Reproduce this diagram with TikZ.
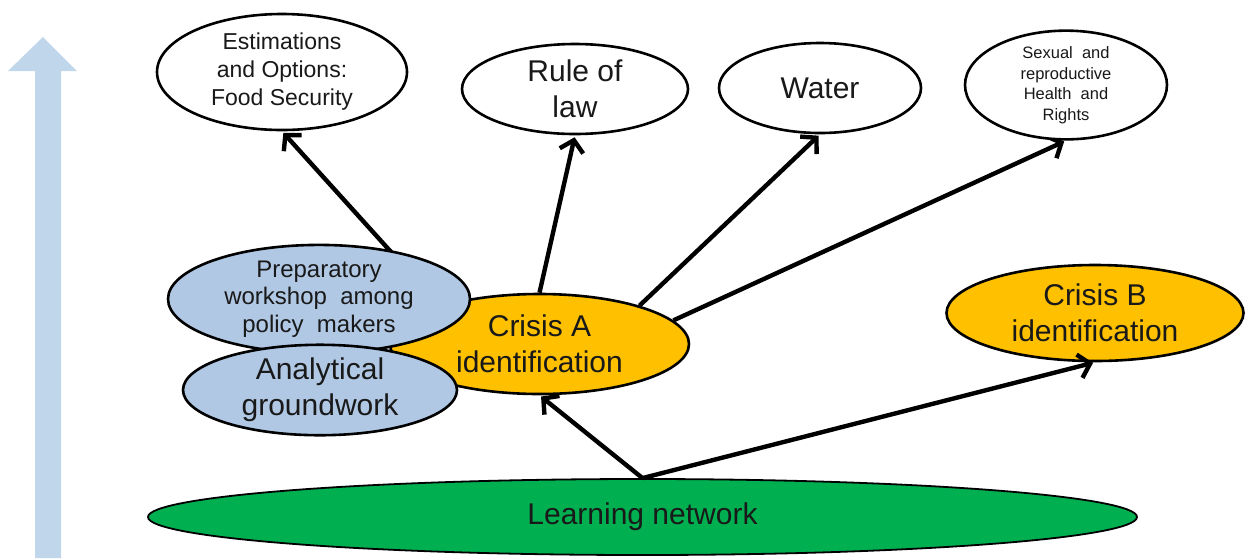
\documentclass[tikz,border=0pt]{standalone}
\usepackage{fontspec}
\setmainfont{Liberation Sans}
\usetikzlibrary{shapes.geometric,arrows.meta,backgrounds}
\definecolor{critorange}{RGB}{255,192,0}
\definecolor{netgreen}{RGB}{0,176,80}
\definecolor{prepblue}{RGB}{176,200,228}
\definecolor{bigarrow}{RGB}{192,214,234}
\definecolor{txt}{RGB}{25,25,25}
\tikzset{
  oval/.style={ellipse, draw=black, line width=2.6pt, inner sep=0pt, align=center, text=txt},
  topic/.style={oval, fill=white},
  crisis/.style={oval, fill=critorange},
  prep/.style={oval, fill=prepblue},
  net/.style={oval, fill=netgreen, line width=1.8pt},
  link/.style={line width=4.4pt, draw=black, shorten >=2pt, -{Straight Barb[length=11pt,width=24pt]}},
  big/.style={font=\fontsize{30}{36}\selectfont},
}
\begin{document}
\begin{tikzpicture}[x=1pt,y=-1pt]
\useasboundingbox (0,0) rectangle (1245,558);
% big upward arrow on the left
\fill[bigarrow] (35,558) -- (35,71) -- (8,71) -- (43,37) -- (77,71) -- (61,71) -- (61,558) -- cycle;
% nodes
\node[net, big, minimum width=989pt, minimum height=76pt] (net) at (642.5,517)
  {Learning network};
\node[crisis, big, minimum width=299pt, minimum height=100pt] (ca) at (539.5,344)
  {Crisis A\\ identification};
\node[crisis, big, minimum width=297pt, minimum height=96pt] (cb) at (1095,313)
  {Crisis B\\ identification};
\node[prep, font=\fontsize{24}{27.5}\selectfont, minimum width=302pt, minimum height=86pt] (prep) at (319,299)
  {Preparatory\\ workshop\ \ among\\ policy\ \ makers};
\node[prep, big, minimum width=274pt, minimum height=90pt] (ana) at (320,390)
  {Analytical\\ groundwork};
\node[topic, font=\fontsize{23}{28}\selectfont, minimum width=250pt, minimum height=116pt] (est) at (282,72)
  {Estimations\\ and Options:\\ Food Security};
\node[topic, big, minimum width=226pt, minimum height=90pt] (rule) at (575,89)
  {Rule of\\ law};
\node[topic, big, minimum width=202pt, minimum height=90pt] (water) at (820,88)
  {Water};
\node[topic, font=\fontsize{16.5}{20.5}\selectfont, minimum width=202pt, minimum height=90pt] (srh) at (1066,85)
  {Sexual\ \ and\\ reproductive\\ Health\ \ and\\ Rights};
% connectors
\begin{pgfonlayer}{background}
\draw[link] (ca.159) -- (est.south);
\draw[link] (ca.north) -- (rule.south);
\draw[link] (ca.21) -- (water.south);
\draw[link] (ca.10) -- (srh.south);
\end{pgfonlayer}
\draw[link] (net.north) -- (ca.south);
\draw[link] (net.north) -- (cb.south);
\end{tikzpicture}
\end{document}
